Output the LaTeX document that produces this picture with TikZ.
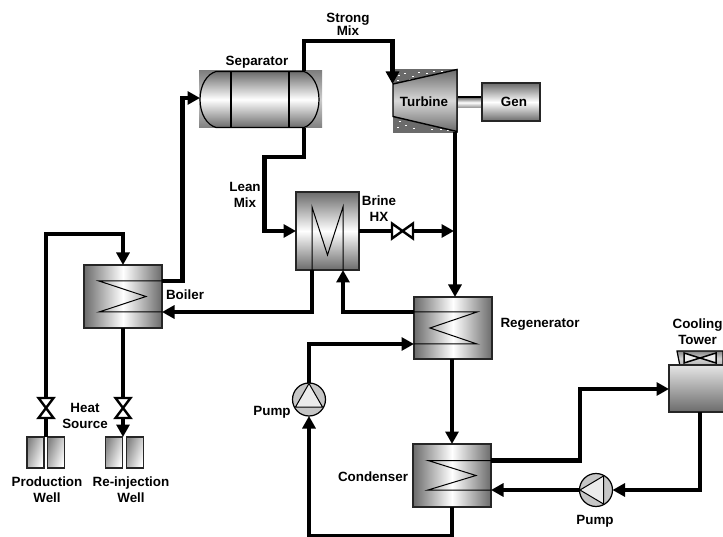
\documentclass[tikz,border=0pt]{standalone}
\usepackage{fontspec}
\setmainfont{Liberation Sans}
\usetikzlibrary{arrows.meta}
\definecolor{eqdark}{gray}{0.42}
\definecolor{sepcorner}{gray}{0.5}
\definecolor{sepcornermid}{gray}{0.8}
\definecolor{speck}{gray}{0.42}
\tikzset{
  x=1pt,y=-1pt,
  lab/.style={font=\bfseries\fontsize{13.4}{15}\selectfont,align=center,inner sep=0pt,text=black},
  equip/.style={draw=black!85,line width=1.4pt,inner sep=0pt,outer sep=0pt},
  hx/.style={equip,left color=eqdark,right color=eqdark,middle color=white},
  vx/.style={equip,top color=eqdark,bottom color=eqdark,middle color=white},
  coil/.style={draw=black,line width=1pt,line join=miter},
  pipe/.style={draw=black,line width=4.3pt,line join=miter},
  flow/.style={pipe,-{Triangle[length=12.5pt,width=13pt]}},
  valvebox/.style={minimum width=15pt,minimum height=20pt,inner sep=0pt,outer sep=0pt},
  hvalvebox/.style={minimum width=21pt,minimum height=15pt,inner sep=0pt,outer sep=0pt},
  bow/.style={draw=black,line width=2.4pt,fill=white,line join=miter},
  pumpbody/.style={circle,draw=black,line width=1.2pt,fill=gray!45,minimum size=33pt,inner sep=0pt,outer sep=0pt},
  pumptri/.style={draw=black,line width=1pt,fill=white!92!black},
  wellbox/.style={draw=black!85,line width=1.2pt,left color=gray!95,right color=white,shading angle=70,minimum width=17pt,minimum height=31pt,inner sep=0pt,outer sep=0pt},
}
\begin{document}
\begin{tikzpicture}
\useasboundingbox (0,0) rectangle (723,537);
\fill[white] (0,0) rectangle (723,537);

% Separator
\node[inner sep=0pt,outer sep=0pt,minimum width=123pt,minimum height=57pt,top color=sepcorner,bottom color=sepcorner,middle color=sepcornermid] (sep) at (260.5,99.5) {};
\path[draw=black,line width=1.2pt,top color=eqdark,bottom color=eqdark,middle color=white]
  (216,71.5) -- (304,71.5) .. controls (312,74) and (319,85) .. (319,99.5)
  .. controls (319,114) and (312,125) .. (304,127.5) -- (216,127.5)
  .. controls (207,125) and (200,114) .. (200,99.5)
  .. controls (200,85) and (207,74) .. (216,71.5) -- cycle;
\draw[line width=1.2pt] (231,71.5) -- (231,127.5);
\draw[line width=1.2pt] (289,71.5) -- (289,127.5);
\coordinate (sepIn) at (200,98);
\coordinate (sepTop) at (304,71);
\coordinate (sepBot) at (304,128);

% Turbine
\node[inner sep=0pt,outer sep=0pt,minimum width=65pt,minimum height=64pt,fill=speck] (turb) at (425.5,101) {};
\foreach \a/\b in {398/75,404/73,412/76,418/72,426/73,433/71,441/71,397/80,409/79,399/121,405/125,413/128,421/123,431/129,440/129,397/127,447/130}{
  \fill[white] (\a,\b) rectangle ++(1.5,1);
}
\path[draw=black,line width=1.4pt,top color=eqdark,bottom color=eqdark,middle color=white!85!black]
  (393,84) -- (457,69.5) -- (457,131.5) -- (393,116.5) -- cycle;
\node[lab] (turbLab) at (424,102) {Turbine};
\coordinate (turbOut) at (455,132);
\coordinate (turbIn) at (392.5,84);

% Generator and shaft
\node[inner sep=0pt,outer sep=0pt,minimum width=24pt,minimum height=11pt,top color=black!65,bottom color=black!45,middle color=white] (shaft) at (470,102.5) {};
\draw[line width=2pt] (shaft.north west) -- (shaft.north east);
\node[vx,minimum width=58pt,minimum height=38pt] (gen) at (511,102) {};
\node[lab] (genLab) at (514,102) {Gen};

% Boiler
\node[hx,minimum width=78pt,minimum height=63pt] (boiler) at (123,296.5) {};
\coordinate (bo1) at (162,281);
\coordinate (bo2) at (162,312);
\draw[coil] (bo1) -- (99,281) -- (146,296.5) -- (99,312) -- (bo2);
\node[lab] (boilerLab) at (185,295) {Boiler};

% Brine HX
\node[vx,minimum width=63pt,minimum height=78pt] (brine) at (327.5,231) {};
\coordinate (br1) at (312,270);
\coordinate (br2) at (343,270);
\draw[coil] (br1) -- (312,207) -- (327.5,255) -- (343,207) -- (br2);
\node[lab] (brineLab) at (379,209) {Brine\\[1pt]HX};

% Regenerator
\node[hx,minimum width=78pt,minimum height=62pt] (regen) at (453,328) {};
\coordinate (re1) at (414,312);
\coordinate (re2) at (414,344);
\draw[coil] (re1) -- (477,312) -- (430,328) -- (477,344) -- (re2);
\node[lab] (regenLab) at (540,324) {Regenerator};

% Condenser
\node[hx,minimum width=78pt,minimum height=63pt] (cond) at (452,475.5) {};
\coordinate (co1) at (491,460.5);
\coordinate (co2) at (491,490);
\draw[coil] (co1) -- (428,460.5) -- (476,475.5) -- (428,490) -- (co2);
\node[lab] (condLab) at (373,477) {Condenser};

% Cooling tower
\path[draw=black,line width=1.2pt,top color=gray!95,bottom color=gray!60,middle color=gray!35]
  (677,351) -- (723,351) -- (723,366) -- (680,366) -- cycle;
\path[draw=black,line width=1.5pt,fill=white!85!gray]
  (684,353) -- (716,363) -- (716,353) -- (684,363) -- cycle;
\path[draw=black!85,line width=1.4pt,top color=white!90!black,bottom color=eqdark]
  (669,365) rectangle (725,412);
\coordinate (towerIn) at (669,389);
\coordinate (towerOut) at (700,412);
\node[lab] (towerLab) at (697.5,332) {Cooling\\[1pt]Tower};

% Pumps
\node[pumpbody] (pumpA) at (309,399.5) {};
\path[pumptri] (309,383.5) -- (322.5,407) -- (295.5,407) -- cycle;
\node[lab] (pumpALab) at (272,412) {Pump};
\node[pumpbody] (pumpB) at (596,490) {};
\path[pumptri] (580,490) -- (603.5,476) -- (603.5,504) -- cycle;
\node[lab] (pumpBLab) at (595,521) {Pump};

% Wells
\node[wellbox] (w1) at (35.5,452.5) {};
\node[wellbox] (w2) at (56,452.5) {};
\node[wellbox] (w3) at (114,452.5) {};
\node[wellbox] (w4) at (135,452.5) {};
\coordinate (prodTop) at (46,437);
\coordinate (injTop) at (123,437);
\node[lab] (prodLab) at (47,490) {Production\\[1pt]Well};
\node[lab] (injLab) at (131,490) {Re-injection\\[1pt]Well};
\node[lab] (heatLab) at (85,415.5) {Heat\\[1pt]Source};

% Valves
\node[valvebox] (vp) at (46,408) {};
\node[valvebox] (vi) at (123,408) {};
\node[hvalvebox] (vb) at (402.5,231) {};

% Labels on streams
\node[lab] (strongLab) at (348,24.5) {Strong\\[-2pt]Mix};
\node[lab] (sepLab) at (257,62) {Separator};
\node[lab] (leanLab) at (245,195) {Lean\\[1pt]Mix};

% Connectors
\draw[flow] (vp.north) -- (46,234) -- (123,234) -- (boiler.north);
\draw[pipe] (prodTop) -- (vp.south);
\draw[pipe] (boiler.south) -- (vi.north);
\draw[flow] (vi.south) -- (injTop);
\draw[flow] (bo1) -- (182.5,281) -- (182.5,98) -- (sepIn);
\draw[flow] (sepTop) -- (304,41) -- (392.5,41) -- (turbIn);
\draw[flow] (sepBot) -- (304,157) -- (264.5,157) -- (264.5,231) -- (brine.west);
\draw[pipe] (brine.east) -- (vb.west);
\draw[flow] (vb.east) -- (454,231);
\draw[flow] (turbOut) -- (455,297);
\draw[flow] (br1) -- (312,312) -- (bo2);
\draw[flow] (re1) -- (343,312) -- (br2);
\draw[flow] (pumpA.north) -- (309,344) -- (re2);
\draw[flow] (cond.north |- regen.south) -- (cond.north);
\draw[flow] (cond.south) -- (452,536) -- (309,536) -- (pumpA.south);
\draw[flow] (co1) -- (580,460.5) -- (580,389) -- (towerIn);
\draw[flow] (towerOut) -- (700,490) -- (pumpB.east);
\draw[flow] (pumpB.west) -- (co2);

% Valve bodies
\path[bow] (vp.north west) -- (vp.south east) -- (vp.south west) -- (vp.north east) -- cycle;
\path[bow] (vi.north west) -- (vi.south east) -- (vi.south west) -- (vi.north east) -- cycle;
\path[bow] (vb.north west) -- (vb.south west) -- (vb.north east) -- (vb.south east) -- cycle;
\end{tikzpicture}
\end{document}
